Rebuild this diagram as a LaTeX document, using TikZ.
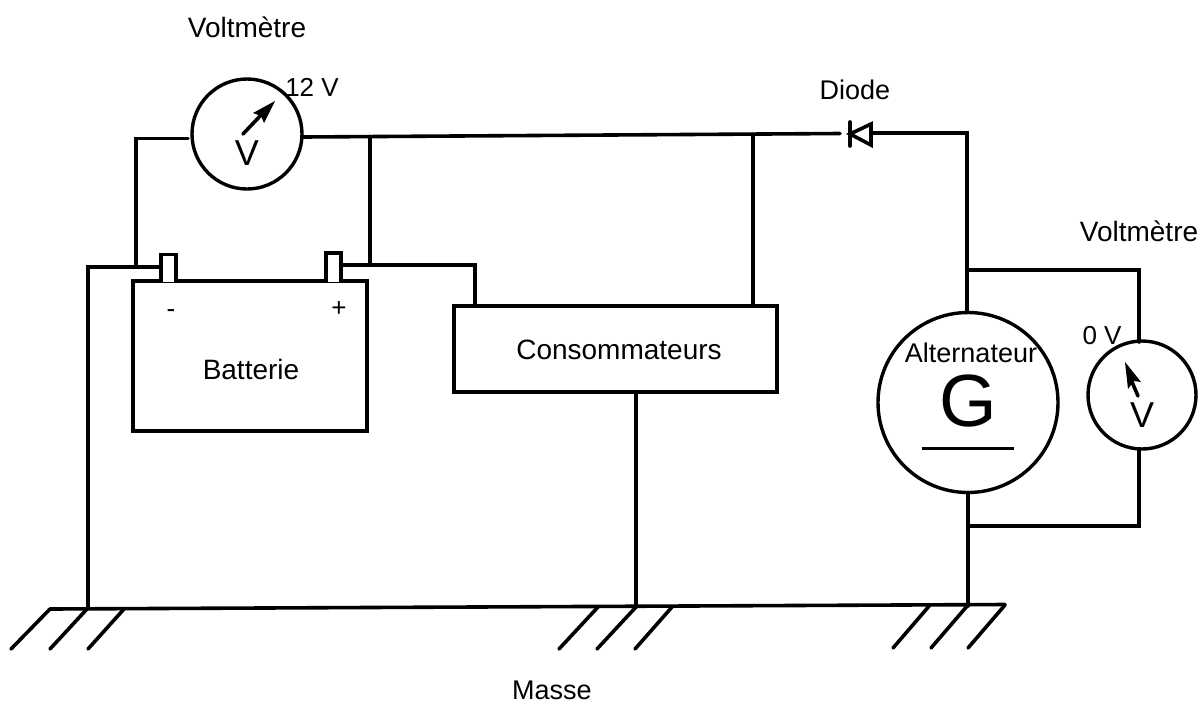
\documentclass[tikz,border=0pt]{standalone}
\usepackage{fontspec}
\setmainfont{Liberation Sans}
\tikzset{
  wire/.style={line width=3.6pt,line join=miter,line cap=round},
  hatch/.style={line width=3.6pt,line cap=round},
  meter/.style={circle,draw,line width=3.4pt,inner sep=0pt,fill=none},
  boxn/.style={rectangle,draw,line width=3.4pt,inner sep=0pt},
  lab/.style={inner sep=0pt,font=\fontsize{28}{32}\selectfont},
  midlab/.style={inner sep=0pt,font=\fontsize{27}{31}\selectfont},
  smalllab/.style={inner sep=0pt,font=\fontsize{26}{30}\selectfont},
  needle/.style={line width=3.6pt,line cap=round},
  pin/.style={draw,line width=3.4pt,fill=white}
}
\begin{document}
\begin{tikzpicture}[x=1pt,y=-1pt]
\useasboundingbox (0,0) rectangle (1202,705);
% nodes
\node[meter,minimum size=110pt] (vl) at (247,134) {};
\node[meter,minimum size=180pt] (alt) at (968,402.5) {};
\node[meter,minimum size=108pt] (vr) at (1142,395) {};
\node[boxn,minimum width=234pt,minimum height=150pt] (bat) at (250,356) {};
\node[boxn,minimum width=323pt,minimum height=86pt] (cons) at (615.5,349) {};
% coordinates
\coordinate (a1) at (188,138.5);
\coordinate (a2) at (136,138.5);
\coordinate (a3) at (136,267);
\coordinate (b1) at (303,137);
\coordinate (b2) at (840,133.5);
\coordinate (j1) at (370,136.5);
\coordinate (j2) at (370,265);
\coordinate (j3) at (753,134.5);
\coordinate (j4) at (753,306);
\coordinate (c1) at (341,265);
\coordinate (c2) at (475,265);
\coordinate (c3) at (475,306);
\coordinate (d1) at (160,267);
\coordinate (d2) at (88,267);
\coordinate (d3) at (88,608);
\coordinate (e1) at (873,133);
\coordinate (e2) at (967,133);
\coordinate (e3) at (967,312.5);
\coordinate (f0) at (967,270);
\coordinate (f1) at (1139,270);
\coordinate (f2) at (1139,342);
\coordinate (g1) at (1139,449);
\coordinate (g2) at (1139,526);
\coordinate (g3) at (968,526);
\coordinate (h1) at (968,492.5);
\coordinate (h2) at (968,606);
\coordinate (k1) at (636,392);
\coordinate (k2) at (636,607);
\coordinate (r1) at (50,609);
\coordinate (r2) at (1005,604.5);
% wires
\draw[wire] (a1) -- (a2) -- (a3);
\draw[wire] (b1) -- (b2);
\draw[wire] (j1) -- (j2);
\draw[wire] (j3) -- (j4);
\draw[wire] (c1) -- (c2) -- (c3);
\draw[wire] (d1) -- (d2) -- (d3);
\draw[wire] (e1) -- (e2) -- (e3);
\draw[wire] (f0) -- (f1) -- (f2);
\draw[wire] (g1) -- (g2) -- (g3);
\draw[wire] (h1) -- (h2);
\draw[wire] (k1) -- (k2);
\draw[wire] (r1) -- (r2);
% battery terminals
\draw[pin] (161,282) -- (161,254.5) -- (176,254.5) -- (176,282);
\draw[pin] (326,282) -- (326,253) -- (341,253) -- (341,282);
% diode
\draw[wire] (850,122) -- (850,146);
\draw[wire] (850,134) -- (871,124) -- (871,145) -- cycle;
% ground hatches
\draw[hatch] (50,609) -- (11,649);
\draw[hatch] (87,609) -- (50,649);
\draw[hatch] (124,609) -- (88,649);
\draw[hatch] (598,607) -- (559,649);
\draw[hatch] (636,607) -- (597,649);
\draw[hatch] (672,607) -- (635,649);
\draw[hatch] (930,605) -- (893,648);
\draw[hatch] (968,605) -- (931,648);
\draw[hatch] (1005,605) -- (968,648);
% generator bar
\draw[line width=3pt] (922,448) -- (1014,448);
% needles
\draw[needle] (243,134) -- (262,114);
\fill (275,101) -- (253,113) -- (261,116) -- (264,123) -- cycle;
\draw[needle] (1138,396) -- (1132,382);
\fill (1125,362) -- (1141,382) -- (1134,381) -- (1128,389) -- cycle;
% labels
\node[lab,anchor=base] (t1) at (247,37) {Voltmètre};
\node[lab,anchor=base] (t2) at (1139,241) {Voltmètre};
\node[midlab,anchor=base] (t3) at (855,99) {Diode};
\node[smalllab,anchor=base] (t4) at (312,96) {12 V};
\node[smalllab,anchor=base] (t5) at (1102,344) {0 V};
\node[midlab,anchor=base] (t6) at (971,362) {Alternateur};
\node[anchor=base,inner sep=0pt,font=\fontsize{74}{78}\selectfont] (t7) at (968,426) {G};
\node[anchor=base,inner sep=0pt,font=\fontsize{36}{40}\selectfont] (t8) at (247,165) {V};
\node[anchor=base,inner sep=0pt,font=\fontsize{36}{40}\selectfont] (t9) at (1142,427) {V};
\node[lab,anchor=base] (t10) at (251,379) {Batterie};
\node[lab,anchor=base] (t11) at (619,359) {Consommateurs};
\node[smalllab,anchor=base] (t12) at (171,317) {-};
\node[smalllab,anchor=base] (t13) at (339,316) {+};
\node[midlab,anchor=base] (t14) at (552,699) {Masse};
\end{tikzpicture}
\end{document}
